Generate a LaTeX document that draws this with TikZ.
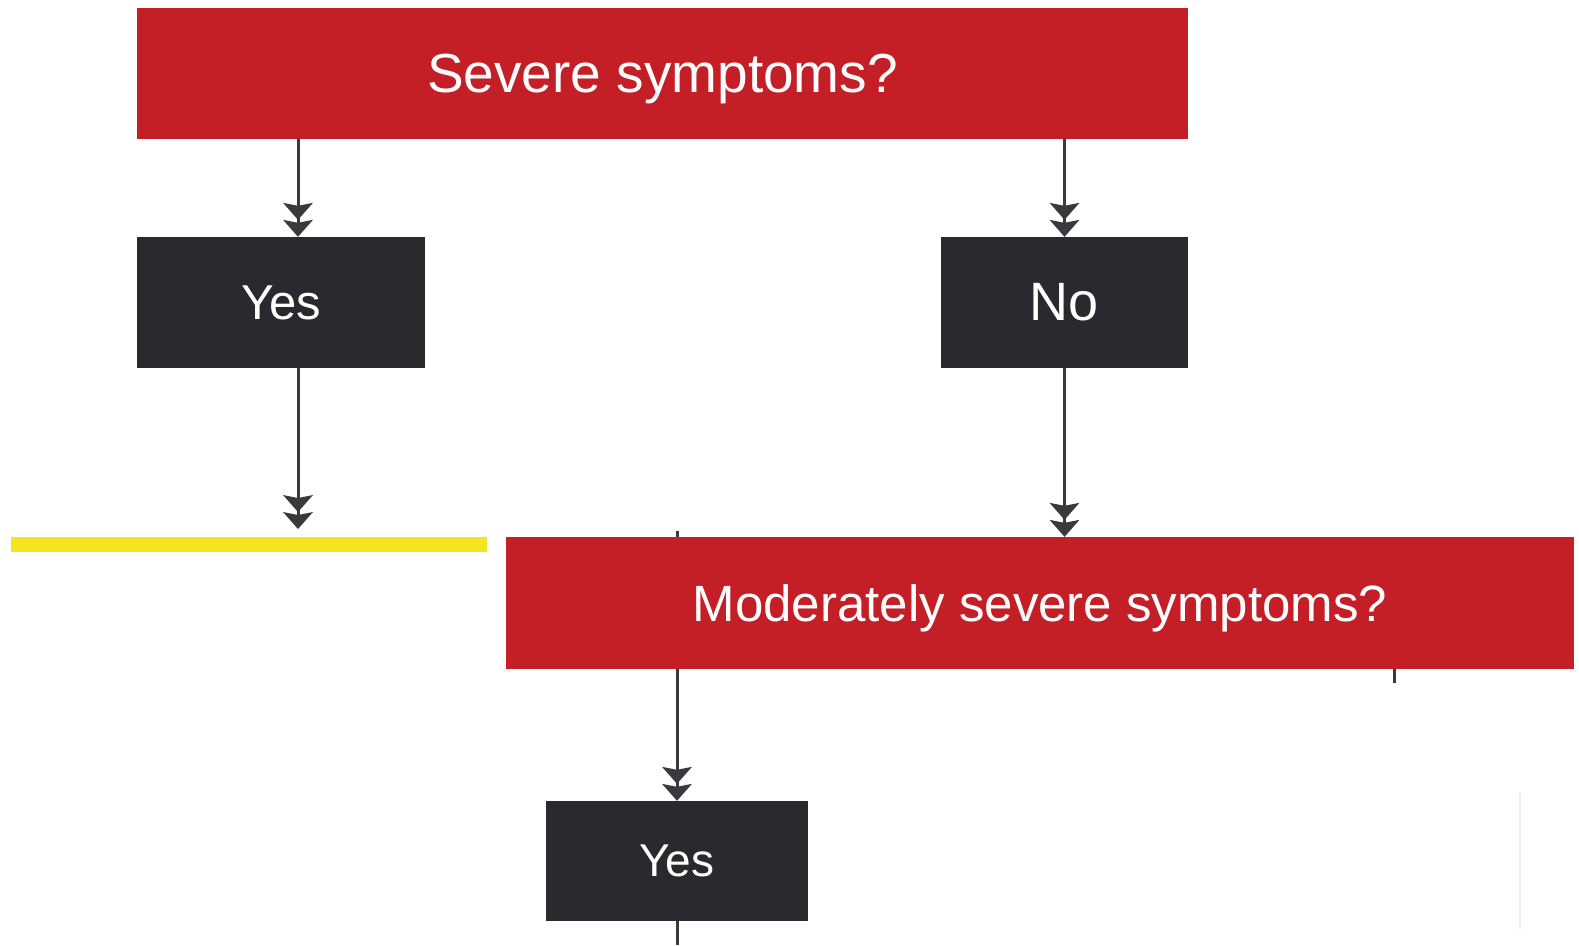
\documentclass[tikz,border=0pt]{standalone}
\usepackage{fontspec}
\setmainfont{Liberation Sans}
\usetikzlibrary{arrows.meta}
\definecolor{boxred}{HTML}{C41F26}
\definecolor{boxdark}{HTML}{2A2A2E}
\definecolor{arrowgray}{HTML}{3A3A3E}
\definecolor{baryellow}{HTML}{F3E51E}
\tikzset{
  redbox/.style={fill=boxred, text=white, inner sep=0pt, minimum height=131pt, text depth=0pt},
  darkbox/.style={fill=boxdark, text=white, inner sep=0pt, minimum height=131pt},
  conn/.style={draw=arrowgray, line width=3pt,
    -{Stealth[length=17pt,width=30pt,inset=3pt,line width=0pt]Stealth[length=17pt,width=30pt,inset=3pt,line width=0pt]}},
  plain/.style={draw=arrowgray, line width=3pt},
}
\newcommand{\fs}[1]{\fontsize{#1}{#1}\selectfont}
\begin{document}
\begin{tikzpicture}[x=1pt,y=-1pt]
\path[use as bounding box, fill=white] (0,0) rectangle (1579,945);
% boxes
\node[redbox, minimum width=1051pt] (q1) at (662.5,73.5) {\fs{55}Severe symptoms?};
\node[darkbox, minimum width=288pt] (yes1) at (281,302.5) {\fs{49}Yes};
\node[darkbox, minimum width=247pt] (no1) at (1064.5,302.5) {\fs{54}No};
\node[redbox, minimum width=1068pt, minimum height=132pt] (q2) at (1040,603) {\fs{51}Moderately severe symptoms?};
\node[darkbox, minimum width=262pt, minimum height=120pt] (yes2) at (677,861) {\fs{46}Yes};
% yellow bar
\fill[baryellow] (11,537) rectangle (487,552);
% faint line
\draw[gray!12, line width=1.5pt] (1520,793) -- (1520,930);
% coordinates
\coordinate (y1end) at (298,529);
\coordinate (tickA) at (677,531);
\coordinate (tickB) at (1394,683);
\coordinate (botend) at (677,945);
% connectors
\draw[conn] (q1.south -| 298,0) -- (yes1.north -| 298,0);
\draw[conn] (q1.south -| no1.north) -- (no1.north);
\draw[conn] (yes1.south -| 298,0) -- (y1end);
\draw[conn] (no1.south) -- (no1.south |- q2.north);
\draw[plain] (tickA) -- (tickA |- q2.north);
\draw[conn] (q2.south -| yes2.north) -- (yes2.north);
\draw[plain] (q2.south -| tickB) -- (tickB);
\draw[plain] (yes2.south) -- (botend);
\end{tikzpicture}
\end{document}
